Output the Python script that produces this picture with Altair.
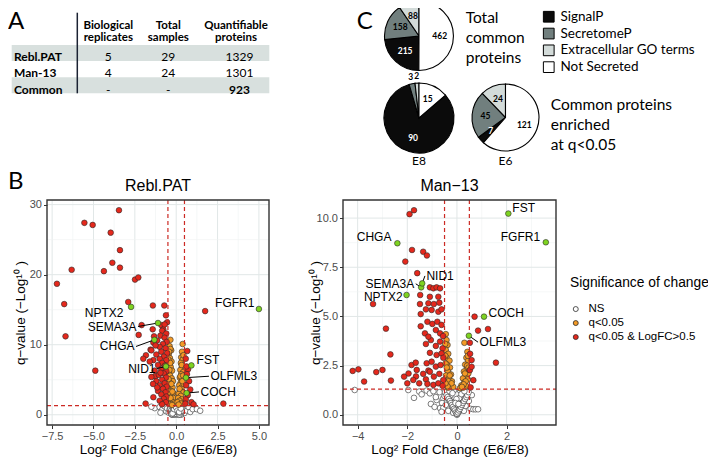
import math
import altair as alt
import pandas as pd

# ---------------- values ----------------
# Panel A (table)
table_rows = ["Rebl.PAT", "Man-13", "Common"]
table_headers = [["Biological", "replicates"], ["Total", "samples"], ["Quantifiable", "proteins"]]
bio_replicates = ["5", "4", "-"]
total_samples = ["29", "24", "-"]
quant_proteins = ["1329", "1301", "923"]
row_shaded = [True, False, True]

# Panel C (pies)
pie_categories = ["SignalP", "SecretomeP", "Extracellular GO terms", "Not Secreted"]
pie_clockwise_rank = [1, 2, 3, 0]
pie_total_common = [215, 158, 88, 462]
pie_e8 = [90, 3, 2, 15]
pie_e6 = [7, 45, 24, 121]

# Panel B (volcano plots): log2 fold change and -log10 q-value
reb_fc = [-3.46, -5.55, -5.05, -3.96, -3.40, -3.86, -3.40, -6.32, -4.37, -2.49, -2.29, -7.21, -6.77,
          -6.69, -4.89, -2.90, -1.41, -0.72, -0.62, -2.09, -0.90, -0.78, -1.42, -2.27, -1.34, -1.38,
          -1.83, -1.38, -1.26, -1.38, -1.85, 2.85, 1.75, -1.99, -1.55,
          -0.55, -0.70, -0.85, -0.60, -0.95, -0.70, -1.15, -0.58, -0.80, -1.00, -0.65, -1.50, -0.90,
          -0.55, -1.20, -0.75, -1.00, -0.60, -1.60, -0.85, -1.10, -0.90, -1.30, -0.60, -0.75, -1.05,
          -1.50, -0.62, -0.85, -1.20, -0.70, -1.00, -0.58, -0.80, -1.10, -0.65, -0.90, -0.60, -0.75,
          -1.00, -0.62, -0.85, -1.15, -0.95, -1.40, -0.68, -1.25,
          0.67, 0.58, 0.72, 0.65, 0.78, 0.60, 0.85, 0.70, 0.58, 0.92, 1.05, 0.55, 0.62,
          -0.35, -0.40, -0.30, -0.45, -0.38, -0.28, -0.42, -0.33, -0.25, -0.45, -0.37, -0.27, -0.20,
          -0.40, -0.32, -0.22, -0.45, -0.30, -0.18, -0.38, -0.26, -0.15, -0.42, -0.32, -0.20, -0.10,
          -0.35, -0.25, -0.46, -0.48, -0.35, -0.43, -0.36, -0.41, -0.29, -0.23, -0.34,
          0.39, 0.35, 0.30, 0.40, 0.28, 0.36, 0.25, 0.42, 0.30, 0.22, 0.38, 0.27, 0.18, 0.33, 0.22,
          0.40, 0.15, 0.28, 0.12, 0.35, 0.20, 0.08, 0.30, 0.15, 0.45, 0.44, 0.33, 0.26, 0.20, 0.42,
          0.37,
          -1.30, -1.00, -0.85, -0.70, -0.60, -0.55, -0.45, -0.40, -0.35, -0.30, -0.28, -0.20, -0.18,
          -0.15, -0.10, -0.08, -0.05, -0.02, 0.00, 0.02, 0.05, 0.08, 0.10, 0.12, 0.15, 0.18, 0.20,
          0.25, 0.30, 0.35, 0.38, 0.42, 0.50, 0.60, 0.65, 0.75, 0.85, 1.00, 1.25, 1.45, -1.50,
          -0.95, -0.05, 0.28, -0.25, 0.10, -0.12, 0.00, -0.10, 0.05, -0.20, 0.22, -0.32, 0.15,
          -0.05, 0.30,
          -0.35, -0.30, -0.25, -0.20, -0.15, -0.10, -0.05, 0.00, 0.05, 0.10, 0.15, 0.20, 0.25, 0.30,
          0.35, -0.28, -0.18, -0.08, 0.02, 0.12, 0.22, 0.32, -0.22, -0.12, -0.02, 0.08, 0.18, 0.28]
reb_q = [29.2, 27.4, 27.1, 26.0, 23.5, 21.7, 21.0, 20.7, 20.5, 19.3, 19.6, 18.7, 15.8,
         11.2, 6.3, 16.1, 15.6, 15.6, 14.2, 12.8, 12.8, 12.2, 12.2, 11.4, 11.2, 10.3,
         8.5, 7.8, 5.5, 2.5, 1.6, 1.6, 14.8, 8.0, 9.3,
         13.2, 12.9, 12.0, 11.6, 11.3, 11.0, 10.6, 10.4, 10.1, 9.7, 9.5, 9.2, 9.0,
         8.8, 8.6, 8.3, 8.0, 7.8, 7.6, 7.4, 7.1, 6.5, 6.3, 6.2, 5.9, 5.7,
         5.4, 5.3, 5.0, 4.8, 4.5, 4.2, 4.0, 3.7, 3.4, 3.2, 2.9, 2.6, 2.3,
         2.0, 1.8, 1.5, 3.9, 6.0, 4.4, 7.0, 9.9,
         9.1, 8.0, 6.5, 5.8, 4.8, 4.2, 3.6, 2.8, 2.2, 1.8, 1.5, 1.6, 6.9,
         10.7, 9.8, 9.2, 8.7, 8.1, 7.6, 7.2, 6.8, 6.3, 6.0, 5.6, 5.2, 4.8,
         4.6, 4.2, 3.9, 3.6, 3.4, 3.1, 2.9, 2.6, 2.4, 2.2, 2.0, 1.8, 1.6,
         1.5, 1.4, 5.1, 7.9, 9.4, 9.0, 7.4, 6.4, 4.4, 3.3, 2.4,
         10.1, 9.0, 8.2, 7.9, 7.4, 6.9, 6.4, 6.1, 5.8, 5.3, 5.0, 4.6, 4.2, 3.9, 3.5,
         3.2, 3.0, 2.7, 2.4, 2.2, 2.0, 1.8, 1.6, 1.45, 4.4, 8.5, 7.1, 5.5, 3.7, 5.6,
         4.8,
         0.95, 1.10, 0.70, 1.20, 0.50, 0.90, 0.30, 0.75, 1.10, 0.20, 0.55, 0.90, 0.10,
         0.40, 0.70, 1.20, 0.05, 0.30, 0.60, 0.15, 0.45, 0.85, 0.05, 0.30, 0.60, 1.00, 0.15,
         0.40, 0.75, 0.10, 1.15, 0.50, 0.25, 0.95, 0.60, 1.10, 0.40, 0.80, 0.80, 0.57, 1.15,
         0.30, 0.95, 0.00, 0.00, 1.25, 0.00, 0.20, 0.20, 0.10, 0.60, 0.85, 0.45, 0.00,
         0.55, 0.30,
         0.85, 0.60, 0.35, 1.05, 0.75, 0.45, 0.15, 1.00, 0.70, 0.50, 0.25, 0.05, 0.65, 0.50,
         0.85, 0.10, 0.30, 0.50, 0.75, 0.95, 0.30, 0.55, 0.20, 0.80, 1.10, 0.60, 0.40, 0.90]
reb_genes = ["NPTX2", "SEMA3A", "CHGA", "NID1", "FST", "OLFML3", "COCH", "FGFR1"]
reb_gene_fc = [-2.73, -1.10, -1.32, -0.62, 0.92, 0.59, 0.63, 5.00]
reb_gene_q = [15.4, 13.1, 10.7, 6.9, 7.05, 5.3, 3.1, 15.1]

man_fc = [-1.91, -1.73, -1.81, -1.36, -1.21, -2.08, -1.60, -1.48, -3.38, -2.86, -2.68, -4.20, -3.97,
          -3.74, -3.25, -3.00, -2.66, -2.13, -1.95, -1.83, -1.66, -1.65, -1.25, -1.15, -2.00, -1.76,
          -1.52,
          -1.09, -0.95, -0.82, -0.68, -1.09, -0.75, -1.49, -1.15, -0.93, -0.71, -1.25, -1.02, -0.75,
          -0.62, -1.46, -1.19, -0.99, -0.79, -0.62, -0.85, -0.68, -1.25, -1.05, -0.85, -0.68, -0.58,
          -1.09, -0.82, -0.62, -1.22, -1.02, -0.85, -0.66, -1.62, -1.36, -1.09, -0.93, -0.71, -0.55,
          -1.19, -0.95, -0.75, -0.58, -1.29, -1.46, -1.15, -0.55, -0.56,
          0.71, 1.25, 0.85, 1.57, 0.52, 0.59, 0.52, 0.66, 0.55, 0.59, 0.53,
          -0.45, -0.42, -0.38, -0.45, -0.35, -0.42, -0.30, -0.40, -0.28, -0.36, -0.24, -0.44, -0.32,
          -0.20, -0.40, -0.28, -0.15, -0.35, -0.46, -0.47, -0.47, -0.41, -0.34, -0.29, -0.22, -0.38,
          -0.46,
          0.30, 0.42, 0.38, 0.45, 0.33, 0.40, 0.28, 0.36, 0.24, 0.44, 0.30, 0.18, 0.38, 0.25, 0.12,
          0.46, 0.35, 0.41, 0.27, 0.20, 0.32, 0.44, 0.47,
          -4.12, -1.96, -1.73, -1.52, -1.42, -1.22, -1.09, -0.82, -0.68, -0.55, -1.05, -0.95, -0.85,
          -0.70, -0.60, -0.55, -0.50, -0.45, -0.40, -0.35, -0.30, -0.25, -0.20, -0.15, -0.10, -0.05,
          0.00, 0.05, 0.08, 0.10, 0.15, 0.20, 0.22, 0.28, 0.30, 0.35, 0.42, 0.48, 0.55, 0.66, 0.75,
          0.85, 0.60, -0.90, -0.02, 0.12, -0.12, -0.62, 0.02, -0.08,
          -0.48, -0.42, -0.38, -0.33, -0.28, -0.24, -0.20, -0.16, -0.12, -0.08, -0.04, 0.00, 0.04,
          0.08, 0.12, 0.16, 0.20, 0.24, 0.28, 0.33, 0.38, 0.42, 0.47, -0.30, -0.18, -0.06, 0.06,
          0.18, 0.30]
man_q = [10.2, 10.4, 8.38, 8.29, 8.1, 7.79, 7.2, 6.09, 5.63, 4.38, 3.07, 2.23, 2.31,
         1.69, 2.17, 2.28, 1.74, 1.94, 2.10, 2.53, 2.65, 1.95, 1.80, 2.25, 1.60, 1.77,
         1.60,
         6.48, 6.43, 6.48, 6.43, 6.00, 6.00, 5.63, 5.67, 5.63, 5.70, 5.36, 5.33, 5.24,
         5.36, 4.50, 4.73, 4.62, 4.73, 4.57, 4.31, 4.14, 3.60, 3.80, 3.50, 3.72, 3.38,
         3.15, 3.04, 3.12, 2.62, 2.70, 2.45, 2.53, 2.28, 2.08, 2.19, 1.94, 2.08, 1.77,
         1.57, 1.52, 1.60, 1.47, 4.14, 5.12, 3.97, 2.90, 4.00,
         4.99, 4.36, 4.28, 2.65, 3.66, 2.78, 2.27, 1.76, 1.39, 2.44, 3.10,
         4.10, 3.80, 3.55, 3.30, 3.10, 2.90, 2.75, 2.55, 2.40, 2.20, 2.05, 2.00, 1.85,
         1.70, 1.60, 1.50, 1.42, 1.38, 2.60, 3.60, 3.00, 2.40, 1.70, 2.00, 1.60, 1.45,
         1.60,
         3.66, 3.20, 2.90, 2.75, 2.55, 2.35, 2.20, 2.00, 1.85, 1.80, 1.65, 1.50, 1.45, 1.38, 1.35,
         2.10, 1.70, 2.50, 1.55, 1.42, 2.10, 3.00, 2.40,
         1.26, 1.26, 0.86, 1.18, 1.04, 1.23, 1.09, 0.75, 0.34, 0.84, 0.55, 1.20, 0.90,
         1.15, 0.60, 0.35, 0.95, 0.50, 1.20, 0.20, 0.75, 1.00, 0.40, 0.10, 0.65, 0.25,
         0.00, 0.50, 0.15, 0.85, 0.35, 1.10, 0.60, 0.20, 0.95, 0.45, 1.20, 0.70, 0.30, 0.28, 0.28,
         0.28, 1.00, 0.40, 0.80, 1.25, 1.25, 0.15, 0.05, 0.45,
         1.15, 1.00, 0.90, 0.80, 0.70, 0.60, 0.50, 0.40, 0.30, 0.22, 0.12, 0.05, 0.12,
         0.22, 0.30, 0.40, 0.50, 0.60, 0.70, 0.80, 0.90, 1.00, 1.15, 1.20, 1.10, 0.60, 0.55,
         1.05, 1.20]
man_genes = ["CHGA", "SEMA3A", "NID1", "NPTX2", "FST", "FGFR1", "COCH", "OLFML3"]
man_gene_fc = [-2.40, -1.44, -1.40, -2.03, 2.07, 3.58, 1.09, 0.48]
man_gene_q = [8.72, 6.48, 6.68, 6.09, 10.23, 8.77, 4.99, 4.02]

fc_cutoffs = [-0.5, 0.5]
q_cutoff = [1.30]
status_names = ["NS", "q<0.05", "q<0.05 & LogFC>0.5"]

# ---------------- layout / style (not data) ----------------
W, H = 700, 449
FONT_R = "Liberation Sans"
FONT_T = "Lato"
GRID_MAJOR = "#E1E7E7"
GRID_MINOR = "#EEF2F2"
DASH = "#CC2A24"
status_colors = ["#FFFFFF", "#F39A26", "#E5281C"]
gene_color = "#7ED321"
pie_colors = ["#0B0B0B", "#717F7E", "#D3DBD9", "#FFFFFF"]

PANEL_L = dict(x0=39, x1=261, y0=192, y1=417, xdom=[-7.81, 5.61], ydom=[-1.46, 30.66], ytp=2)
PANEL_R = dict(x0=335, x1=548, y0=192, y1=417, xdom=[-4.59, 3.99], ydom=[-0.52, 10.92], ytp=-6)

# label anchors (data units) : (x, y, side, leader)
reb_ann = {"NPTX2": (-3.10, 14.6, "right", False), "SEMA3A": (-2.31, 12.6, "right", True),
           "CHGA": (-2.43, 9.75, "right", True), "NID1": (-1.16, 6.6, "right", True),
           "FST": (1.14, 7.8, "left", False), "OLFML3": (1.98, 5.5, "left", True),
           "COCH": (1.38, 3.26, "left", True), "FGFR1": (4.82, 16.0, "right", False)}
man_ann = {"CHGA": (-2.58, 9.02, "right", False), "SEMA3A": (-1.66, 6.66, "right", True),
           "NID1": (-1.29, 7.06, "left", True), "NPTX2": (-2.13, 5.98, "right", False),
           "FST": (2.17, 10.5, "left", False), "FGFR1": (3.41, 9.05, "right", False),
           "COCH": (1.21, 5.19, "left", False), "OLFML3": (0.85, 3.69, "left", True)}

ONE = pd.DataFrame({"k": [0]})


def text_mark(text, x, y, size, font=FONT_T, weight="normal", align="left",
              baseline="alphabetic", color="black", line_height=None):
    kw = dict(font=font, fontSize=size, fontWeight=weight, align=align, baseline=baseline, color=color)
    if line_height:
        kw["lineHeight"] = line_height
    return alt.Chart(ONE).mark_text(**kw).encode(x=alt.value(x), y=alt.value(y), text=alt.value(text))


def xscale(p):
    return alt.Scale(domain=p["xdom"], range=[p["x0"], p["x1"]], nice=False, zero=False)


def yscale(p):
    return alt.Scale(domain=p["ydom"], range=[p["y1"], p["y0"]], nice=False, zero=False)


axis_style = dict(grid=False, domain=False, ticks=True, tickSize=3.5, tickColor="#333333", tickWidth=1,
                  labelColor="#4D4D4D", labelFont=FONT_R, labelFontSize=11, labelPadding=2,
                  titleFont=FONT_R, titleFontSize=13.5, titleFontWeight="normal", titleColor="black",
                  labelOverlap=False, labelFlush=False, minExtent=0)


def classify(fc, q):
    if q < q_cutoff[0]:
        return status_names[0]
    if abs(fc) >= fc_cutoffs[1]:
        return status_names[2]
    return status_names[1]


def volcano(p, fc, q, genes, gfc, gq, ann, title, xticks, xminor, xfmt, yticks, yminor, yfmt, legend):
    L = []
    for vals, col, w in [(xminor, GRID_MINOR, 0.6), (xticks, GRID_MAJOR, 1.0)]:
        L.append(alt.Chart(pd.DataFrame({"v": vals})).mark_rule(color=col, strokeWidth=w).encode(
            x=alt.X("v:Q", scale=xscale(p), axis=None), y=alt.value(p["y0"]), y2=alt.value(p["y1"])))
    for vals, col, w in [(yminor, GRID_MINOR, 0.6), (yticks, GRID_MAJOR, 1.0)]:
        L.append(alt.Chart(pd.DataFrame({"v": vals})).mark_rule(color=col, strokeWidth=w).encode(
            y=alt.Y("v:Q", scale=yscale(p), axis=None), x=alt.value(p["x0"]), x2=alt.value(p["x1"])))

    df = pd.DataFrame({"fc": fc, "q": q})
    df["status"] = [classify(a, b) for a, b in zip(fc, q)]
    df["rank"] = df["status"].map({s: i for i, s in enumerate(status_names)})
    df = df.sort_values("rank", kind="stable")
    L.append(alt.Chart(df).mark_circle(size=32, stroke="#2A2A2A", strokeWidth=0.6, opacity=1).encode(
        x=alt.X("fc:Q", scale=xscale(p), axis=alt.Axis(orient="bottom", offset=p["y1"] - H, values=xticks,
                format=xfmt, title="Log² Fold Change (E6/E8)", titlePadding=1, **axis_style)),
        y=alt.Y("q:Q", scale=yscale(p), axis=alt.Axis(orient="left", offset=-p["x0"], values=yticks,
                format=yfmt, title="q−value (−Log¹⁰ )", titlePadding=p["ytp"], **axis_style)),
        fill=alt.Fill("status:N", scale=alt.Scale(domain=status_names, range=status_colors), legend=legend),
    ))

    # threshold lines
    L.append(alt.Chart(pd.DataFrame({"v": fc_cutoffs})).mark_rule(color=DASH, strokeDash=[4, 3], strokeWidth=1.2).encode(
        x=alt.X("v:Q", scale=xscale(p), axis=None), y=alt.value(p["y0"]), y2=alt.value(p["y1"])))
    L.append(alt.Chart(pd.DataFrame({"v": q_cutoff})).mark_rule(color=DASH, strokeDash=[4, 3], strokeWidth=1.2).encode(
        y=alt.Y("v:Q", scale=yscale(p), axis=None), x=alt.value(p["x0"]), x2=alt.value(p["x1"])))

    gdf = pd.DataFrame({"gene": genes, "fc": gfc, "q": gq})
    gdf["lx"] = [ann[g][0] for g in genes]
    gdf["ly"] = [ann[g][1] for g in genes]
    gdf["side"] = [ann[g][2] for g in genes]
    gdf["leader"] = [ann[g][3] for g in genes]

    lead = gdf[gdf["leader"]]
    L.append(alt.Chart(lead).mark_rule(color="black", strokeWidth=1).encode(
        x=alt.X("fc:Q", scale=xscale(p), axis=None), y=alt.Y("q:Q", scale=yscale(p), axis=None),
        x2="lx:Q", y2="ly:Q"))
    L.append(alt.Chart(gdf).mark_circle(size=32, fill=gene_color, stroke="#2A2A2A", strokeWidth=0.6, opacity=1).encode(
        x=alt.X("fc:Q", scale=xscale(p), axis=None), y=alt.Y("q:Q", scale=yscale(p), axis=None)))
    for side, dx in [("left", 1.5), ("right", -1.5)]:
        L.append(alt.Chart(gdf[gdf["side"] == side]).mark_text(
            font=FONT_R, fontSize=12, align=side, baseline="middle", dx=dx, color="black").encode(
            x=alt.X("lx:Q", scale=xscale(p), axis=None), y=alt.Y("ly:Q", scale=yscale(p), axis=None),
            text="gene:N"))

    # panel frame
    L.append(alt.Chart(ONE).mark_rect(fillOpacity=0, stroke="#333333", strokeWidth=1.4).encode(
        x=alt.value(p["x0"]), x2=alt.value(p["x1"]), y=alt.value(p["y0"]), y2=alt.value(p["y1"])))
    L.append(text_mark(title, (p["x0"] + p["x1"]) / 2, 183, 16, font=FONT_R, align="center"))
    return L


def pie(values, cx, cy, r, legend):
    df = pd.DataFrame({"category": pie_categories, "value": values, "rank": pie_clockwise_rank})
    total = sum(values)
    L = [alt.Chart(df).mark_arc(outerRadius=r, stroke="black", strokeWidth=1.1).encode(
        theta=alt.Theta("value:Q", stack=True),
        order=alt.Order("rank:Q"),
        fill=alt.Fill("category:N", scale=alt.Scale(domain=pie_categories, range=pie_colors), legend=legend),
        x=alt.value(cx), y=alt.value(cy))]
    base = alt.Chart(df).transform_stack(
        stack="value", groupby=[], as_=["s0", "s1"], sort=[alt.SortField("rank", order="ascending")]
    ).transform_calculate(mid="(datum.s0 + datum.s1) / 2", frac=f"datum.value / {total}")
    th = alt.Theta("mid:Q", scale=alt.Scale(domain=[0, total], range=[0, 2 * math.pi]))
    L.append(base.transform_filter("datum.frac >= 0.03").mark_text(
        radius=r * 0.6, font=FONT_T, fontSize=8.5, fontWeight="bold", baseline="middle").encode(
        theta=th, x=alt.value(cx), y=alt.value(cy), text="value:Q",
        color=alt.condition("datum.category == 'SignalP'", alt.value("white"), alt.value("black"))))
    L.append(base.transform_filter("datum.frac < 0.03").mark_text(
        radius=r + 7, font=FONT_T, fontSize=8.5, fontWeight="bold", baseline="middle", color="black").encode(
        theta=th, x=alt.value(cx), y=alt.value(cy), text="value:Q"))
    return L


layers = []

# ---------- Panel A: table ----------
tdf = pd.DataFrame({"row": table_rows, "bio": bio_replicates, "tot": total_samples,
                    "quant": quant_proteins, "shade": row_shaded})
layers.append(alt.Chart(tdf).transform_filter("datum.shade").mark_rect(color="#D8E0DE").encode(
    y=alt.Y("row:N", scale=alt.Scale(type="band", domain=table_rows, range=[37, 85.3],
                                     paddingInner=0, paddingOuter=0), axis=None),
    x=alt.value(3.7), x2=alt.value(261.3)))
row_scale = alt.Scale(type="point", domain=table_rows, range=[48.7, 82], padding=0)
layers.append(alt.Chart(tdf).mark_text(font=FONT_T, fontSize=12, fontWeight="bold", align="left").encode(
    x=alt.value(6), y=alt.Y("row:N", scale=row_scale, axis=None), text="row:N"))
for field, cx in [("bio", 100.3), ("tot", 160.3)]:
    layers.append(alt.Chart(tdf).mark_text(font=FONT_T, fontSize=12, align="center").encode(
        x=alt.value(cx), y=alt.Y("row:N", scale=row_scale, axis=None), text=f"{field}:N"))
layers.append(alt.Chart(tdf).transform_filter("datum.row != 'Common'").mark_text(
    font=FONT_T, fontSize=12, align="center").encode(
    x=alt.value(231.5), y=alt.Y("row:N", scale=row_scale, axis=None), text="quant:N"))
layers.append(alt.Chart(tdf).transform_filter("datum.row == 'Common'").mark_text(
    font=FONT_T, fontSize=12, fontWeight="bold", align="center").encode(
    x=alt.value(231.5), y=alt.Y("row:N", scale=row_scale, axis=None), text="quant:N"))
for hdr, cx in zip(table_headers, [100.3, 160.3, 228]):
    layers.append(text_mark(hdr[0], cx, 20.5, 11.5, weight="bold", align="center"))
    layers.append(text_mark(hdr[1], cx, 33, 11.5, weight="bold", align="center"))
layers.append(alt.Chart(ONE).mark_rule(color="#1B2233", strokeWidth=1.5).encode(
    x=alt.value(69.3), y=alt.value(4.7), y2=alt.value(85.3)))
layers.append(text_mark("A", 0, 21, 24))

# ---------- Panel C: pies ----------
pie_legend = alt.Legend(orient="none", legendX=534, legendY=2, title=None, symbolType="square",
                        symbolSize=115, symbolStrokeColor="black", symbolStrokeWidth=1,
                        labelFont=FONT_T, labelFontSize=13.5, labelColor="black", rowPadding=0.8,
                        labelOffset=5)
layers += pie(pie_total_common, 411, 28, 34.5, pie_legend)
layers += pie(pie_e8, 411, 110, 35, None)
layers += pie(pie_e6, 497.5, 109.5, 33.5, None)
layers.append(text_mark("C", 348.7, 21, 24))
layers.append(text_mark(["Total", "common", "proteins"], 457.7, 14.5, 15.5, line_height=20))
layers.append(text_mark(["Common proteins", "enriched", "at q<0.05"], 542.7, 102, 15.5, line_height=20))
layers.append(text_mark("E8", 411, 157, 12, align="center"))
layers.append(text_mark("E6", 497.5, 157, 12, align="center"))

# ---------- Panel B: volcano plots ----------
volc_legend = alt.Legend(orient="none", legendX=562, legendY=268, title="Significance of change",
                         titleFont=FONT_R, titleFontSize=13.8, titleFontWeight="normal", titleColor="black",
                         titlePadding=13.5, labelFont=FONT_R, labelFontSize=11.5, labelColor="black",
                         symbolType="circle", symbolSize=25, symbolStrokeColor="#2A2A2A",
                         symbolStrokeWidth=0.8, rowPadding=1, labelOffset=7)
layers += volcano(PANEL_L, reb_fc, reb_q, reb_genes, reb_gene_fc, reb_gene_q, reb_ann, "Rebl.PAT",
                  [-7.5, -5, -2.5, 0, 2.5, 5], [-6.25, -3.75, -1.25, 1.25, 3.75], ".1f",
                  [0, 10, 20, 30], [5, 15, 25], "d", volc_legend)
layers += volcano(PANEL_R, man_fc, man_q, man_genes, man_gene_fc, man_gene_q, man_ann, "Man−13",
                  [-4, -2, 0, 2], [-3, -1, 1, 3], "d",
                  [0, 2.5, 5, 7.5, 10], [1.25, 3.75, 6.25, 8.75], ".1f", None)
layers.append(text_mark("B", 0, 181, 24))

chart = alt.layer(*layers).properties(
    width=W, height=H, padding=0, background="white",
    autosize=alt.AutoSizeParams(type="none"),
).resolve_scale(
    x="independent", y="independent", fill="independent", theta="independent"
).configure_view(strokeWidth=0)

chart.save("out.html", embed_options={"renderer": "svg", "actions": False})
